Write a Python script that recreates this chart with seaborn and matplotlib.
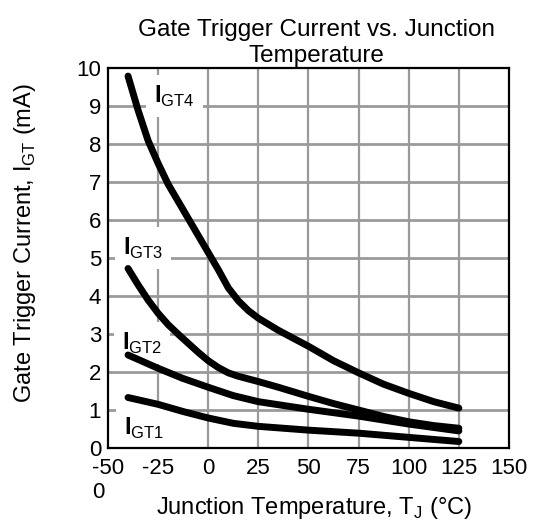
import numpy as np
import pandas as pd
import matplotlib
matplotlib.use("Agg")
import matplotlib.pyplot as plt
import seaborn as sns

# Values
igt4_temp = [-40, -35, -30, -25, -20, -10, -5, 0, 5, 10, 15, 20, 25, 35, 50, 62.5, 75, 87.5, 100, 112.5, 125]
igt4_ma = [9.8, 8.9, 8.1, 7.5, 6.95, 6.05, 5.6, 5.15, 4.7, 4.22, 3.88, 3.62, 3.42, 3.1, 2.68, 2.3, 1.98, 1.68, 1.44, 1.22, 1.05]

igt3_temp = [-40, -35, -30, -25, -20, -14, -10, -5, 0, 5, 10, 15, 20, 25, 35, 50, 62.5, 75, 87.5, 100, 112.5, 125]
igt3_ma = [4.73, 4.3, 3.9, 3.55, 3.25, 2.95, 2.76, 2.52, 2.3, 2.12, 1.98, 1.89, 1.82, 1.75, 1.6, 1.36, 1.17, 1.0, 0.83, 0.69, 0.59, 0.52]

igt2_temp = [-40, -25, -13, 0, 12.5, 25, 50, 75, 100, 125]
igt2_ma = [2.45, 2.1, 1.84, 1.6, 1.38, 1.22, 1.02, 0.84, 0.63, 0.45]

igt1_temp = [-40, -25, -12.5, 0, 12.5, 25, 50, 75, 100, 125]
igt1_ma = [1.33, 1.15, 0.96, 0.79, 0.65, 0.57, 0.47, 0.39, 0.28, 0.17]

curve_names = ["IGT4", "IGT3", "IGT2", "IGT1"]
label_pos = {"IGT4": (-27, 9.1), "IGT3": (-42.5, 5.1), "IGT2": (-43, 2.6), "IGT1": (-42, 0.35)}

x_ticks = [-50, -25, 0, 25, 50, 75, 100, 125, 150]
x_tick_labels = ["-50\n0", "-25", "0", "25", "50", "75", "100", "125", "150"]
y_ticks = list(range(0, 11))

# long-form table for seaborn
frames = []
for name, t, v in zip(curve_names,
                      [igt4_temp, igt3_temp, igt2_temp, igt1_temp],
                      [igt4_ma, igt3_ma, igt2_ma, igt1_ma]):
    frames.append(pd.DataFrame({"temp": t, "igt": v, "curve": name}))
df = pd.concat(frames, ignore_index=True)

sns.set_style("white")
plt.rcParams["font.family"] = ["Liberation Sans", "DejaVu Sans"]
plt.rcParams["mathtext.fontset"] = "custom"
plt.rcParams["mathtext.rm"] = "Liberation Sans"
plt.rcParams["mathtext.bf"] = "Liberation Sans:bold"
plt.rcParams["text.color"] = "black"
plt.rcParams["axes.labelcolor"] = "black"
plt.rcParams["xtick.color"] = "black"
plt.rcParams["ytick.color"] = "black"

fig = plt.figure(figsize=(5.37, 5.22), dpi=100)
ax = fig.add_axes([0.2011, 0.1418, 0.7467, 0.727])

sns.lineplot(data=df, x="temp", y="igt", hue="curve", palette=["black"] * 4,
             estimator=None, legend=False, lw=5, ax=ax,
             solid_capstyle="round", solid_joinstyle="round", zorder=3)

ax.set_xlim(-50, 150)
ax.set_ylim(0, 10)
ax.set_xticks(x_ticks)
ax.set_xticklabels(x_tick_labels)
ax.set_yticks(y_ticks)
ax.tick_params(axis="both", length=0, labelsize=16)
ax.tick_params(axis="x", pad=7)
ax.tick_params(axis="y", pad=5)
ax.get_xticklabels()[0].set_multialignment("left")

# grid: horizontal a bit heavier than vertical
for xv in x_ticks[1:-1]:
    ax.axvline(xv, color="#9a9a9a", lw=1.6, zorder=1)
for yv in y_ticks[1:-1]:
    ax.axhline(yv, color="#9a9a9a", lw=2.0, zorder=1)

for s in ax.spines.values():
    s.set_color("black")
    s.set_linewidth(1.6)
    s.set_zorder(4)

# curve labels sit on white patches above the grid but under the curves
for name in curve_names:
    lx, ly = label_pos[name]
    ax.text(lx, ly, r"$\mathbf{I}_{\mathrm{" + name[1:] + "}}$", fontsize=17,
            ha="left", va="baseline", zorder=2,
            bbox=dict(fc="white", ec="none", pad=6))

ax.set_title("Gate Trigger Current vs. Junction\nTemperature", fontsize=17.5,
             x=0.519, pad=5, linespacing=1.2)
ax.set_xlabel(r"Junction Temperature, T$_{\mathrm{J}}$ (°C)", fontsize=17)
ax.set_ylabel(r"Gate Trigger Current, I$_{\mathrm{GT}}$ (mA)", fontsize=17)
ax.xaxis.set_label_coords(0.514, -0.125)
ax.yaxis.set_label_coords(-0.175, 0.539)

fig.savefig("out.png", dpi=100)
